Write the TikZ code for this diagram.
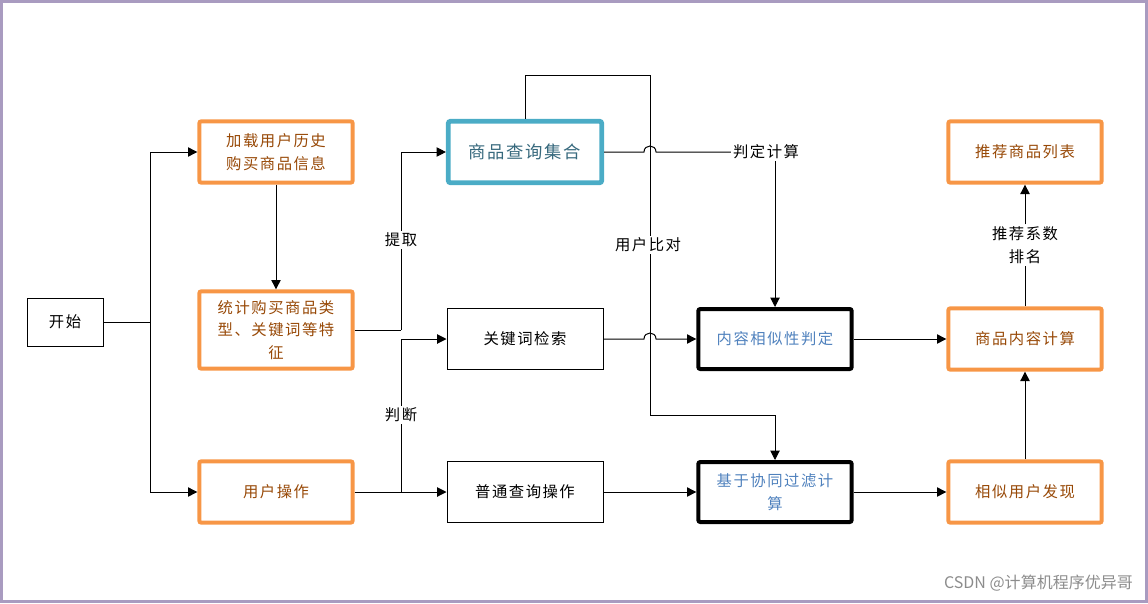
\documentclass[tikz,border=0pt]{standalone}
\usepackage{fontspec}
\setmainfont{Noto Sans CJK SC}[LetterSpace=10]
\newfontfamily\wmfont{Noto Sans CJK SC}
\usetikzlibrary{arrows.meta}
\definecolor{frameP}{RGB}{169,155,192}
\definecolor{orangeB}{RGB}{247,150,70}
\definecolor{orangeT}{RGB}{151,72,6}
\definecolor{blueB}{RGB}{75,172,198}
\definecolor{tealT}{RGB}{55,105,125}
\definecolor{blueT}{RGB}{79,129,189}
\tikzset{
  base/.style={rectangle, align=center, font=\fontsize{11.5}{17}\selectfont, inner sep=2pt},
  obox/.style={base, draw=orangeB, line width=3pt, rounded corners=1.5pt, text=orangeT, minimum width=115pt, minimum height=46pt},
  tbox/.style={base, draw=black, line width=0.75pt, minimum width=117pt, minimum height=46pt},
  kbox/.style={base, draw=black, line width=3pt, rounded corners=1.5pt, text=blueT, minimum width=115pt, minimum height=45pt},
  qbox/.style={base, draw=blueB, line width=3.6pt, rounded corners=1.5pt, text=tealT, minimum width=115pt, minimum height=46pt, font=\fontsize{13}{17}\selectfont},
  lbl/.style={base, fill=white, inner sep=1.5pt},
  conn/.style={line width=0.75pt, draw=black},
  arr/.style={conn, -{Triangle[length=7pt,width=7pt]}},
}
\begin{document}
\begin{tikzpicture}[x=0.75pt, y=-0.75pt]
\useasboundingbox (0,0) rectangle (1148,603);
\draw[frameP, line width=2.4pt] (1.6,1.6) rectangle (1146.4,601.4);

% nodes
\node[tbox, minimum width=57pt, minimum height=36pt] (start) at (65,322) {开始};
\node[obox] (load) at (276,152) {加载用户历史\\购买商品信息};
\node[obox, minimum height=58pt] (stat) at (276,330) {统计购买商品类\\型、关键词等特\\征};
\node[obox] (op) at (276,492) {用户操作};
\node[qbox] (set) at (525,152) {商品查询集合};
\node[tbox] (kw) at (525,339) {关键词检索};
\node[tbox] (nq) at (525,492) {普通查询操作};
\node[kbox] (sim) at (775,339) {内容相似性判定};
\node[kbox] (cf) at (775,492) {基于协同过滤计\\算};
\node[obox] (rec) at (1025,152) {推荐商品列表};
\node[obox] (cc) at (1025,339) {商品内容计算};
\node[obox] (su) at (1025,492) {相似用户发现};

% start branches
\coordinate (sp) at (150,322);
\draw[conn] (start.east) -- (sp);
\draw[arr] (sp) |- (load.west);
\draw[arr] (sp) |- (op.west);
\draw[arr] (load.south) -- (stat.north);

% extract
\coordinate (ex) at (401,330);
\draw[conn] (stat.east) -- (ex);
\draw[arr] (ex) |- (set.west);
\node[lbl] (tq) at (401,240) {提取};

% judge
\coordinate (jx) at (401,492);
\draw[arr] (op.east) -- (nq.west);
\draw[arr] (jx) |- (kw.west);
\node[lbl] (pd) at (401,415) {判断};

% set -> judge calc
\node[lbl] (jd) at (766,152) {判定计算};
\draw[conn] (set.east) -- (644,152) .. controls (644,144) and (656,144) .. (656,152) -- (jd.west);
\draw[arr] (jd.south -| sim.north) -- (sim.north);

% set top -> user compare
\coordinate (t1) at (525,75);
\coordinate (t2) at (650,75);
\coordinate (t3) at (650,415);
\draw[arr] (set.north) -- (t1) -- (t2) -- (t3) -| (cf.north);
\node[lbl] (ub) at (648,245) {用户比对};

% keyword -> sim
\draw[arr] (kw.east) -- (644,339) .. controls (644,331) and (656,331) .. (656,339) -- (sim.west);
\draw[arr] (nq.east) -- (cf.west);
\draw[arr] (sim.east) -- (cc.west);
\draw[arr] (cf.east) -- (su.west);
\draw[arr] (su.north) -- (cc.south);

% recommend
\node[lbl] (pm) at (1025,245) {推荐系数\\排名};
\draw[conn] (cc.north) -- (pm.south);
\draw[arr] (pm.north) -- (rec.south);

% watermark
\node[anchor=east, text=black!45, font=\wmfont\fontsize{12}{14}\selectfont, inner sep=0pt] (wm) at (1133,583) {CSDN @计算机程序优异哥};
\end{tikzpicture}
\end{document}
